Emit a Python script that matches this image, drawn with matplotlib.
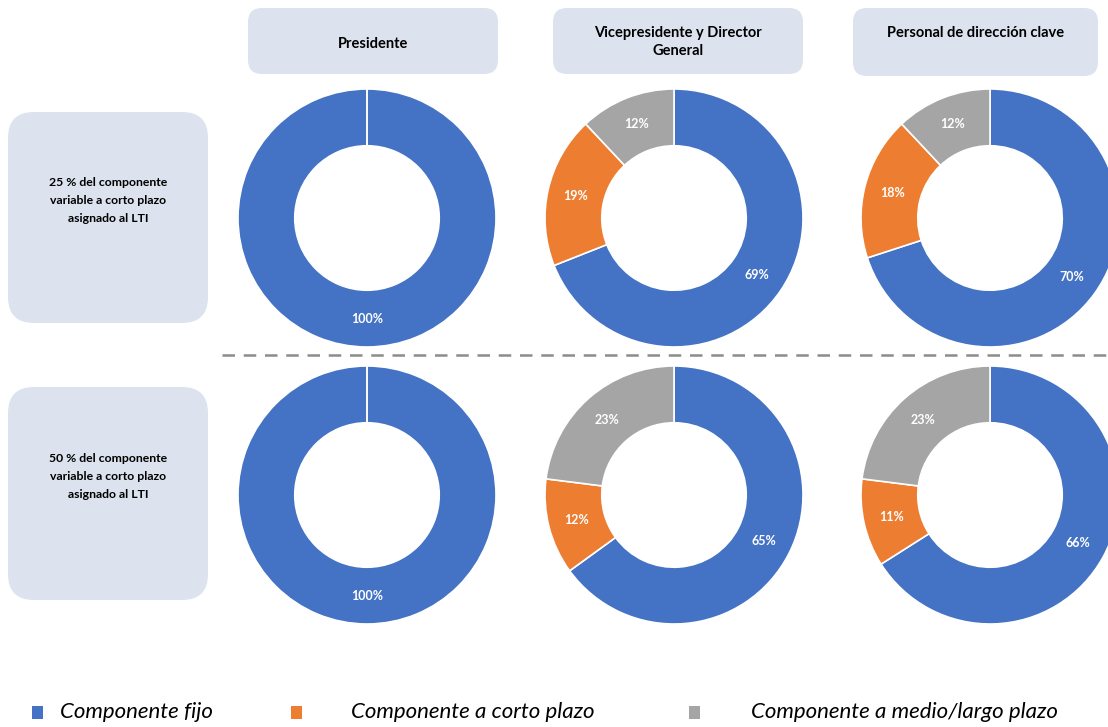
import numpy as np
import matplotlib
matplotlib.use("Agg")
import matplotlib.pyplot as plt
from matplotlib.patches import FancyBboxPatch, Rectangle

plt.rcParams['font.family'] = ['Lato', 'DejaVu Sans']

# remuneration mix per role (fixed / short term / medium-long term), in %
roles = ["Presidente", "Vicepresidente y Director\nGeneral", "Personal de dirección clave"]
scenarios = ["25 % del componente\nvariable a corto plazo\nasignado al LTI",
             "50 % del componente\nvariable a corto plazo\nasignado al LTI"]
fijo = [[100, 69, 70], [100, 65, 66]]
corto = [[0, 19, 18], [0, 12, 11]]
medio_largo = [[0, 12, 12], [0, 23, 23]]

series_names = ["Componente fijo", "Componente a corto plazo", "Componente a medio/largo plazo"]
colors = ["#4472C4", "#ED7D31", "#A5A5A5"]
box_color = "#DCE3EE"

W, H = 1108, 727
fig = plt.figure(figsize=(W / 100, H / 100), dpi=100)

# overlay axes in pixel units for boxes, separator and legend
bg = fig.add_axes([0, 0, 1, 1])
bg.set_xlim(0, W)
bg.set_ylim(H, 0)
bg.axis("off")

def box(x0, y0, x1, y1, rad):
    p = FancyBboxPatch((x0 + rad, y0 + rad), (x1 - x0) - 2 * rad, (y1 - y0) - 2 * rad,
                       boxstyle="round,pad=%d,rounding_size=%d" % (rad, rad),
                       fc=box_color, ec="none")
    bg.add_patch(p)

# column headers
header_boxes = [(248, 8, 498, 74), (553, 8, 803, 74), (853, 8, 1098, 76)]
header_y = [44, 42, 33]
for (x0, y0, x1, y1), name, ty in zip(header_boxes, roles, header_y):
    box(x0, y0, x1, y1, 14)
    bg.text((x0 + x1) / 2, ty, name, ha="center", va="center", fontsize=10.5,
            fontweight="bold", linespacing=1.45)

# row headers
row_boxes = [(8, 112, 208, 323), (8, 387, 208, 600)]
for (x0, y0, x1, y1), lab in zip(row_boxes, scenarios):
    box(x0, y0, x1, y1, 26)
    bg.text((x0 + x1) / 2, (y0 + y1) / 2 - 17, lab, ha="center", va="center",
            fontsize=8.8, fontweight="bold", linespacing=1.75)

# separator between scenarios
bg.plot([222, W], [355, 355], color="#8C8C8C", lw=1.8, ls=(0, (5, 3.5)))

# donuts
col_cx = [367, 674, 990]
row_cy = [218, 495]
R = 129
for i in range(2):
    for j in range(3):
        cx, cy = col_cx[j], row_cy[i]
        ax = fig.add_axes([(cx - R) / W, 1 - (cy + R) / H, 2 * R / W, 2 * R / H])
        vals = [fijo[i][j], corto[i][j], medio_largo[i][j]]
        wedges, texts, autotexts = ax.pie(
            vals, colors=colors, startangle=90, counterclock=False, radius=1,
            autopct=lambda p: "%d%%" % round(p) if p > 0 else "",
            pctdistance=0.78,
            wedgeprops=dict(width=0.44, edgecolor="white", linewidth=1.2),
            textprops=dict(color="white", fontsize=9, fontweight="bold"))
        ax.set_xlim(-1, 1)
        ax.set_ylim(-1, 1)
        ax.set_aspect("equal")
        ax.axis("off")

# legend
leg_sq_x = [32, 291, 689]
leg_txt_x = [60, 351, 751]
for sx, tx, name, c in zip(leg_sq_x, leg_txt_x, series_names, colors):
    bg.add_patch(Rectangle((sx, 706), 11, 13, fc=c, ec="none"))
    bg.text(tx, 712, name, ha="left", va="center", fontsize=16, fontstyle="italic")

fig.savefig("out.png", dpi=100)
